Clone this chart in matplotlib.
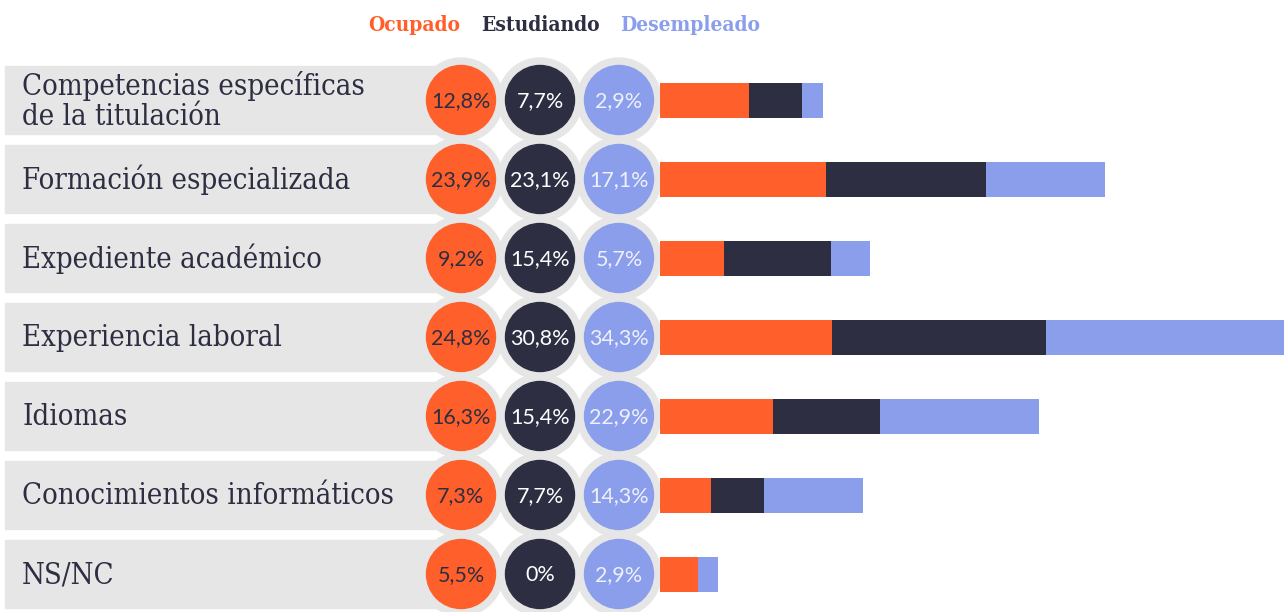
import matplotlib.pyplot as plt
from matplotlib.patches import Circle, Rectangle

categorias = [
    'Competencias específicas\nde la titulación',
    'Formación especializada',
    'Expediente académico',
    'Experiencia laboral',
    'Idiomas',
    'Conocimientos informáticos',
    'NS/NC',
]
ocupado = [12.8, 23.9, 9.2, 24.8, 16.3, 7.3, 5.5]
estudiando = [7.7, 23.1, 15.4, 30.8, 15.4, 7.7, 0.0]
desempleado = [2.9, 17.1, 5.7, 34.3, 22.9, 14.3, 2.9]

naranja = '#FF5F2A'
marino = '#2D2E42'
azul = '#8A9EEC'
gris = '#E6E6E6'

W, H = 1285, 612
fig = plt.figure(figsize=(W / 100, H / 100), dpi=100)

# capa de fondo en pixeles: cajas grises, circulos y textos
ax = fig.add_axes([0, 0, 1, 1])
ax.set_xlim(0, W)
ax.set_ylim(H, 0)
ax.axis('off')

filas = [100 + 79 * i for i in range(len(categorias))]
cx = [461, 540, 619]
serie_col = [naranja, marino, azul]
txt_col = [marino, 'white', '#EEF0FA']

def fmt(v):
    s = f'{v:.1f}'.replace('.', ',')
    if s.endswith(',0'):
        s = s[:-2]
    return s + '%'

for y, cat in zip(filas, categorias):
    ax.add_patch(Rectangle((5, y - 34), 440, 68, color=gris, zorder=1))
    ax.text(22, y + 1, cat, ha='left', va='center', fontsize=21,
            family='DejaVu Serif', fontstretch='condensed', color=marino,
            linespacing=1.05, zorder=5)

# halos grises
for y in filas:
    for x in cx:
        ax.add_patch(Circle((x, y), 42, color=gris, zorder=2))

for i, y in enumerate(filas):
    vals = [ocupado[i], estudiando[i], desempleado[i]]
    for x, v, c, tc in zip(cx, vals, serie_col, txt_col):
        ax.add_patch(Circle((x, y), 34.5, color=c, zorder=3))
        ax.text(x, y + 1, fmt(v), ha='center', va='center', fontsize=15.5,
                family='Lato', color=tc, zorder=4)

# leyenda
ley = [('Ocupado', naranja, 368), ('Estudiando', marino, 481), ('Desempleado', azul, 620)]
for t, c, x in ley:
    ax.text(x, 25, t, ha='left', va='center', fontsize=15, family='DejaVu Serif',
            fontstretch='condensed', fontweight='bold', color=c)

# barras apiladas en unidades de porcentaje
x0 = 660
bx = fig.add_axes([x0 / W, 0, (W - x0) / W, 1])
bx.set_xlim(0, 90)
bx.set_ylim(H, 0)
bx.axis('off')
bx.patch.set_alpha(0)

izq = [0.0] * len(filas)
for serie, c in zip([ocupado, estudiando, desempleado], serie_col):
    bx.barh(filas, serie, left=izq, height=35, color=c)
    izq = [a + b for a, b in zip(izq, serie)]

fig.savefig('out.png', dpi=100)
